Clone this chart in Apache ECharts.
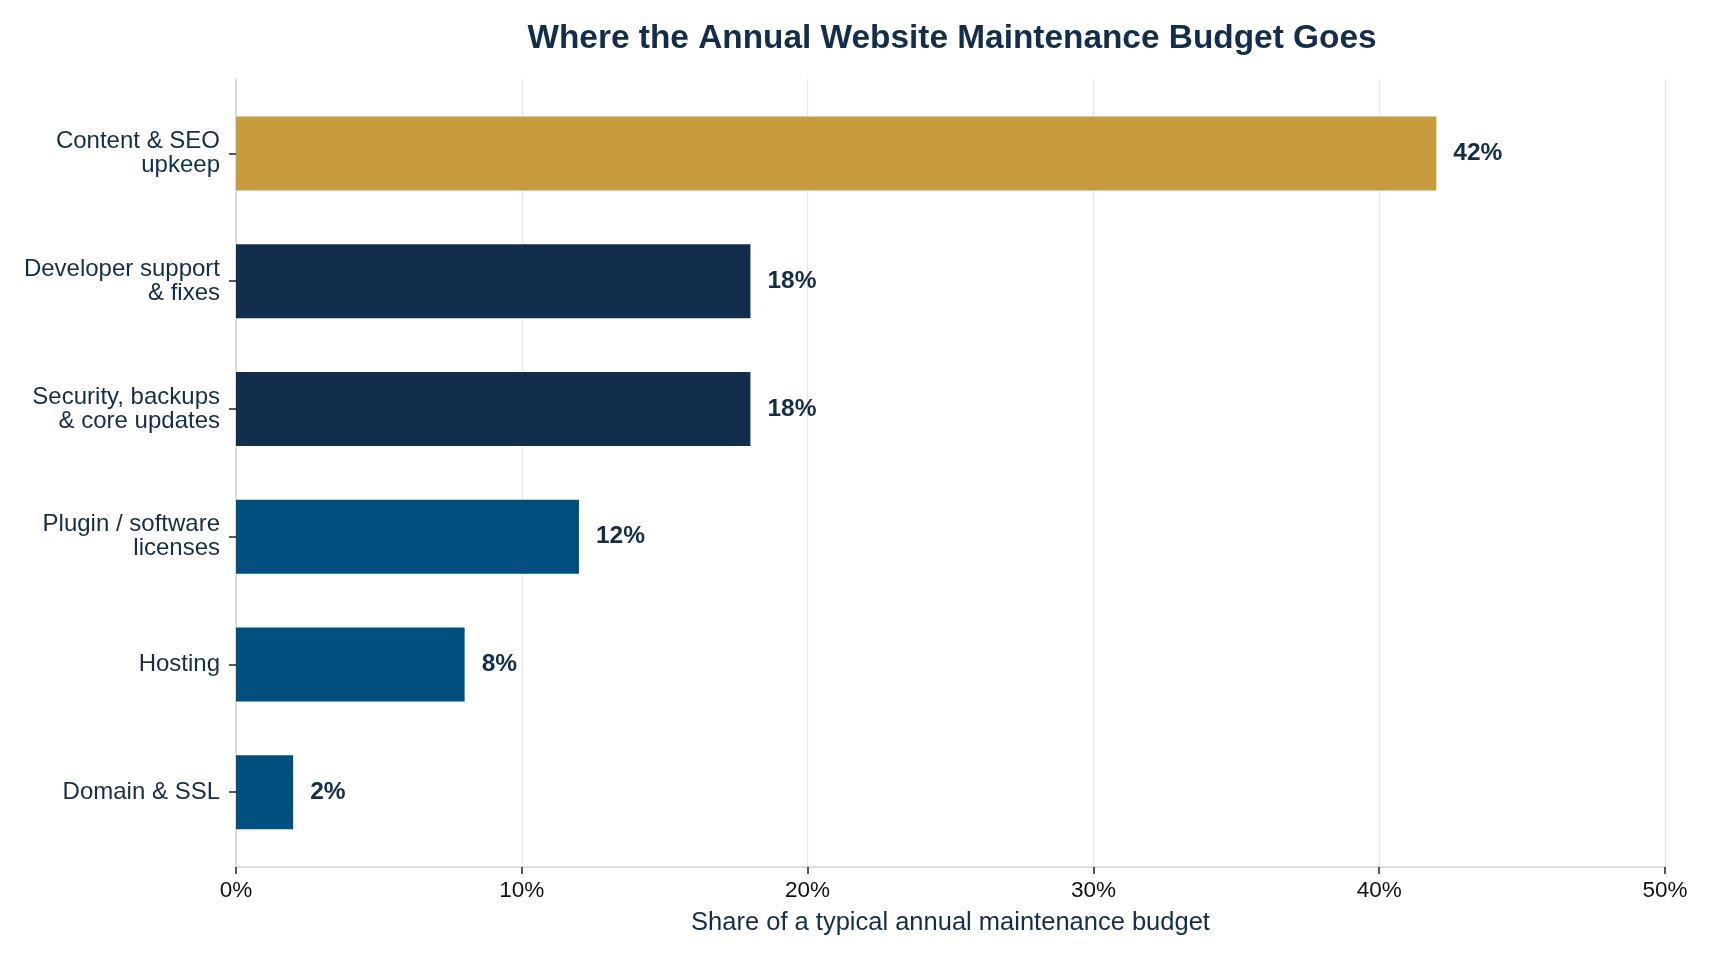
<!DOCTYPE html>
<html>
<head>
<meta charset="utf-8">
<script src="https://cdn.jsdelivr.net/npm/echarts@6/dist/echarts.min.js"></script>
<style>
  html, body { margin: 0; padding: 0; background: #fff; }
  #chart { width: 1712px; height: 960px; }
</style>
</head>
<body>
<div id="chart"></div>
<script>
var categories = ['Content & SEO\nupkeep', 'Developer support\n& fixes', 'Security, backups\n& core updates', 'Plugin / software\nlicenses', 'Hosting', 'Domain & SSL'];
var shares = [42, 18, 18, 12, 8, 2];
var barColors = ['#c89c3e', '#132e4c', '#132e4c', '#004f7e', '#004f7e', '#004f7e'];
var xTicks = [0, 10, 20, 30, 40, 50];

var navy = '#132e4c';
var font = 'Liberation Sans';
var chart = echarts.init(document.getElementById('chart'));

var option = {
  backgroundColor: '#fff',
  title: {
    text: 'Where the Annual Website Maintenance Budget Goes',
    left: 947,
    textAlign: 'center',
    top: 17,
    textStyle: { fontFamily: font, fontSize: 33.4, fontWeight: 'bold', color: navy }
  },
  // outer grid: frame, gridlines, x axis; inner grid: bars with matplotlib-like margins
  grid: [
    { left: 236, right: 47, top: 79, bottom: 93 },
    { left: 236, right: 47, top: 89.5, bottom: 104 }
  ],
  xAxis: [{
    gridIndex: 0,
    type: 'value',
    min: xTicks[0],
    max: xTicks[xTicks.length - 1],
    interval: 10,
    name: 'Share of a typical annual maintenance budget',
    nameLocation: 'middle',
    nameGap: 43,
    nameTextStyle: { fontFamily: font, fontSize: 25.5, color: navy },
    axisLine: { show: true, lineStyle: { color: '#cdd4e0', width: 1.5 } },
    axisTick: { show: true, length: 7, lineStyle: { color: '#222', width: 1.5 } },
    axisLabel: { formatter: '{value}%', fontFamily: font, fontSize: 22.5, color: '#111', margin: 12 },
    splitLine: { show: true, lineStyle: { color: '#e3e6ec', width: 1.2 } }
  }, {
    gridIndex: 1,
    type: 'value',
    min: xTicks[0],
    max: xTicks[xTicks.length - 1],
    show: false
  }],
  yAxis: [{
    gridIndex: 0,
    type: 'value',
    min: 0,
    max: 1,
    axisLine: { show: true, lineStyle: { color: '#cdd4e0', width: 1.5 } },
    axisTick: { show: false },
    axisLabel: { show: false },
    splitLine: { show: false }
  }, {
    gridIndex: 1,
    type: 'category',
    data: categories,
    inverse: true,
    axisLine: { show: false },
    axisTick: { show: true, length: 7, alignWithLabel: true, lineStyle: { color: '#222', width: 1.5 } },
    axisLabel: { fontFamily: font, fontSize: 24, lineHeight: 24, color: navy, margin: 16, align: 'right', padding: [4, 0, 0, 0] },
    splitLine: { show: false }
  }],
  series: [{
    type: 'scatter',
    xAxisIndex: 0,
    yAxisIndex: 0,
    data: [],
    silent: true
  }, {
    type: 'bar',
    xAxisIndex: 1,
    yAxisIndex: 1,
    data: shares.map(function (v, i) { return { value: v, itemStyle: { color: barColors[i] } }; }),
    barWidth: 74,
    label: {
      show: true,
      position: 'right',
      distance: 17,
      formatter: '{c}%',
      fontFamily: font,
      fontSize: 24.5,
      fontWeight: 'bold',
      color: navy
    }
  }],
  animation: false
};
chart.setOption(option);
</script>
</body>
</html>
